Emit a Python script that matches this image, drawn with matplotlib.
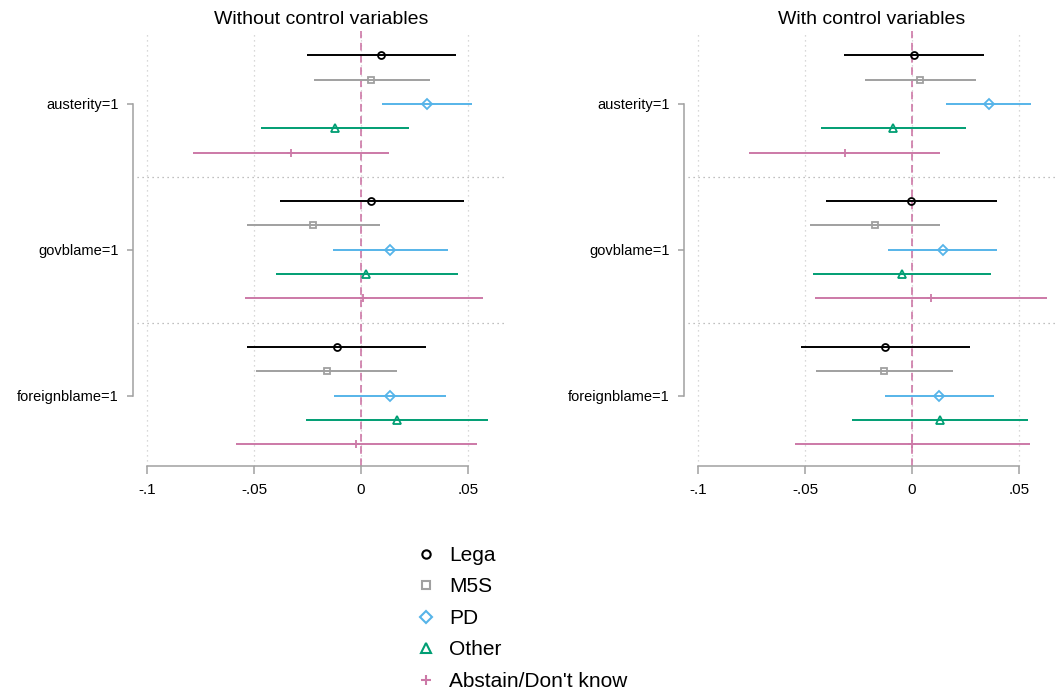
import numpy as np
import matplotlib.pyplot as plt
from matplotlib.lines import Line2D

plt.rcParams['font.family'] = ['Liberation Sans', 'DejaVu Sans']

parties = ['Lega', 'M5S', 'PD', 'Other', "Abstain/Don't know"]
treatments = ['austerity=1', 'govblame=1', 'foreignblame=1']
colors = ['black', '#a0a0a0', '#56b4e9', '#009e73', '#cc79a7']
markers = ['o', 's', 'D', '^', '+']
msizes = [5, 5, 5, 5.5, 6]

# rows = treatment, cols = party
# without control variables
coef_nc = [[0.0093, 0.0048, 0.0307, -0.0121, -0.0327],
           [0.0048, -0.0224, 0.0137, 0.0025, 0.0011],
           [-0.0114, -0.0160, 0.0136, 0.0167, -0.0023]]
lo_nc = [[-0.0252, -0.0218, 0.0100, -0.0467, -0.0784],
         [-0.0379, -0.0533, -0.0131, -0.0399, -0.0544],
         [-0.0533, -0.0491, -0.0126, -0.0257, -0.0586]]
hi_nc = [[0.0444, 0.0322, 0.0519, 0.0224, 0.0132],
         [0.0480, 0.0089, 0.0405, 0.0453, 0.0572],
         [0.0304, 0.0168, 0.0399, 0.0592, 0.0540]]

# with control variables
coef_wc = [[0.0009, 0.0039, 0.0360, -0.0087, -0.0315],
           [-0.0003, -0.0173, 0.0143, -0.0048, 0.0087],
           [-0.0125, -0.0131, 0.0128, 0.0131, 0.0001]]
lo_wc = [[-0.0318, -0.0221, 0.0159, -0.0424, -0.0762],
         [-0.0402, -0.0477, -0.0112, -0.0461, -0.0455],
         [-0.0517, -0.0450, -0.0125, -0.0282, -0.0547]]
hi_wc = [[0.0335, 0.0300, 0.0558, 0.0254, 0.0131],
         [0.0396, 0.0131, 0.0396, 0.0369, 0.0629],
         [0.0270, 0.0190, 0.0382, 0.0540, 0.0553]]

xticks = [-0.1, -0.05, 0, 0.05]
xticklabels = ['-.1', '-.05', '0', '.05']
axcol = '#a0a0a0'


def panel(ax, coef, lo, hi, title):
    for g in range(3):
        for p in range(5):
            y = 6 * g + p + 1
            ax.plot([lo[g][p], hi[g][p]], [y, y], color=colors[p], lw=1.4,
                    solid_capstyle='butt', zorder=3)
            ax.plot(coef[g][p], y, marker=markers[p], ms=msizes[p], mfc='none',
                    mec=colors[p], mew=1.3, zorder=4)
    for xv in xticks:
        ax.axvline(xv, color='#cccccc', ls=(0, (1, 3)), lw=0.9, zorder=1)
    for yv in [6, 12]:
        ax.axhline(yv, color='#aaaaaa', ls=(0, (1, 3)), lw=0.9, zorder=1)
    ax.axvline(0, color='#c96c9f', ls=(0, (5, 3)), lw=1.1, zorder=2)

    ax.set_xlim(-0.1047, 0.0673)
    ax.set_ylim(17.9, 0)
    ax.spines['top'].set_visible(False)
    ax.spines['right'].set_visible(False)
    ax.spines['left'].set_position(('outward', 3))
    ax.spines['left'].set_bounds(3, 15)
    ax.spines['bottom'].set_bounds(-0.1, 0.05)
    for s in ['left', 'bottom']:
        ax.spines[s].set_color(axcol)
        ax.spines[s].set_linewidth(1.1)
    ax.set_xticks(xticks)
    ax.set_xticklabels(xticklabels, fontsize=11)
    ax.set_yticks([3, 9, 15])
    ax.set_yticklabels(treatments, fontsize=10.5)
    ax.tick_params(axis='x', length=6, width=1.1, color=axcol, pad=6)
    ax.tick_params(axis='y', length=4, width=1.1, color=axcol, pad=6)
    ax.set_title(title, fontsize=14, pad=5)


fig = plt.figure(figsize=(10.59, 6.92), dpi=100)
ax1 = fig.add_axes([137 / 1059, 1 - 466 / 692, 368 / 1059, 435 / 692])
ax2 = fig.add_axes([688 / 1059, 1 - 466 / 692, 368 / 1059, 435 / 692])
panel(ax1, coef_nc, lo_nc, hi_nc, 'Without control variables')
panel(ax2, coef_wc, lo_wc, hi_wc, 'With control variables')

handles = [Line2D([], [], ls='none', marker=markers[i], ms=msizes[i] + 1, mfc='none',
                  mec=colors[i], mew=1.5) for i in range(5)]
fig.legend(handles, parties, loc='upper left', bbox_to_anchor=(0.3925, 0.211),
           frameon=False, fontsize=15, handlelength=1, handletextpad=0.6,
           labelspacing=0.6, borderpad=0, borderaxespad=0)

fig.savefig('out.png', dpi=100)
